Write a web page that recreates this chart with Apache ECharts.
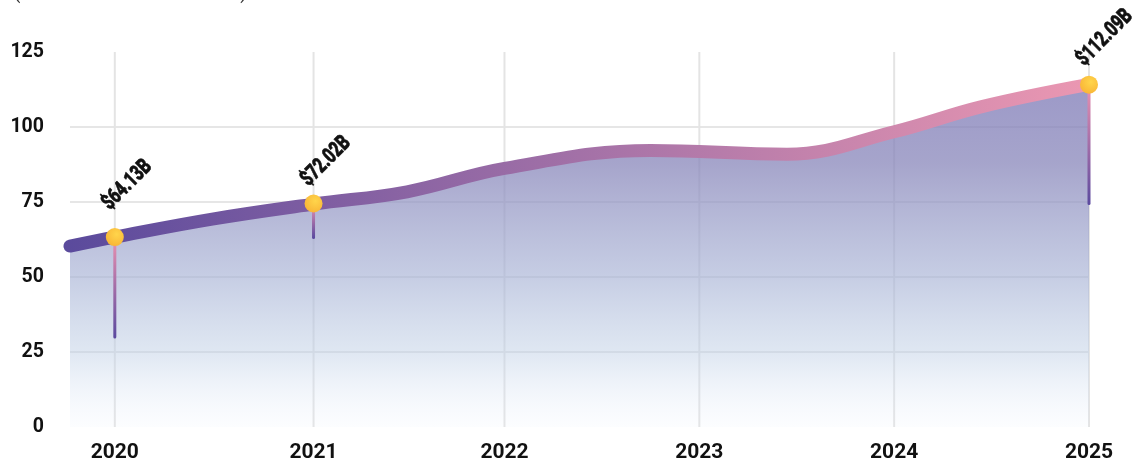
<!DOCTYPE html>
<html><head><meta charset="utf-8">
<script src="https://cdn.jsdelivr.net/npm/echarts@6/dist/echarts.min.js"></script>
<style>html,body{margin:0;padding:0;background:#fff;} #c{width:1132px;height:466px;}</style>
</head><body><div id="c"></div>
<script>
// x positions of the year ticks as drawn in the reference (2021 sits slightly right of even spacing)
const tickPos = [2020, 2021.02, 2022, 2023, 2024, 2025];
const tickLabels = ['2020', '2021', '2022', '2023', '2024', '2025'];
const curveX = [2019.77, 2020, 2020.5, 2021.02, 2021.5, 2022, 2022.75, 2023.45, 2024, 2024.45, 2025];
const curveY = [60.3, 63.3, 69.3, 74.3, 78.4, 86.2, 92.2, 90.9, 98.4, 106.8, 114.2];
const markerX = [2020, 2021.02, 2025];
const markerValues = [64.13, 72.02, 112.09];
const markerDots = [63.3, 74.5, 114.1];
const markerStemLow = [30, 63.2, 74.5];
const markerLabels = ['$64.13B', '$72.02B', '$112.09B'];
const subtitle = '(Market Size in Billions USD)';

const chart = echarts.init(document.getElementById('c'), null, {renderer: 'canvas'});
const G = echarts.graphic;

function renderGrid(params, api) {
  const x = api.value(0);
  const a = api.coord([x, 0]);
  const b = api.coord([x, 125]);
  return {type: 'line', shape: {x1: a[0], y1: a[1], x2: b[0], y2: b[1]},
    style: {stroke: '#e4e4e4', lineWidth: 2}};
}

function renderMarker(params, api) {
  const i = params.dataIndex;
  const x = api.value(0);
  const top = api.coord([x, api.value(1)]);
  const low = api.coord([x, api.value(2)]);
  const lab = api.coord([x, api.value(3)]);
  return {
    type: 'group',
    children: [
      {type: 'line', shape: {x1: top[0], y1: top[1], x2: low[0], y2: low[1]},
        style: {stroke: new G.LinearGradient(top[0], top[1], low[0], low[1],
          [{offset: 0, color: '#ec92b0'}, {offset: 1, color: '#5c4a9f'}], true), lineWidth: 3, lineCap: 'round'}},
      {type: 'circle', shape: {cx: top[0], cy: top[1], r: 9},
        style: {fill: new G.RadialGradient(0.6, 0.35, 0.75,
          [{offset: 0, color: '#ffd54b'}, {offset: 1, color: '#f8b234'}])}},
      {type: 'text', x: lab[0] - 9, y: lab[1] - 28, rotation: 45 * Math.PI / 180,
        scaleX: 0.72, scaleY: 1,
        style: {text: markerLabels[i], fontFamily: 'Roboto, sans-serif',
          fontWeight: 900, fontSize: 22, fill: '#111', align: 'left', verticalAlign: 'middle',
          stroke: '#111', lineWidth: 0.6}}
    ]
  };
}

chart.setOption({
  animation: false,
  backgroundColor: '#ffffff',
  grid: {left: 70, right: 43, top: 52, bottom: 39, containLabel: false},
  graphic: [{type: 'text', left: 14, top: -15,
    style: {text: subtitle, fontFamily: 'Roboto', fontSize: 18.5, fill: '#333'}}],
  xAxis: {
    type: 'value', min: 2019.77, max: 2025,
    axisLine: {show: false}, axisTick: {show: false}, splitLine: {show: false},
    axisLabel: {customValues: tickPos,
      formatter: v => tickLabels[tickPos.indexOf(v)] || '', color: '#111',
      fontFamily: 'Roboto', fontWeight: 'bold', fontSize: 21, margin: 15}
  },
  yAxis: {
    type: 'value', min: 0, max: 125, interval: 25,
    axisLine: {show: false}, axisTick: {show: false},
    splitLine: {show: true, showMinLine: false, showMaxLine: false,
      lineStyle: {color: '#e6e6e6', width: 2}},
    axisLabel: {color: '#111', fontFamily: 'Roboto', fontWeight: 'bold', fontSize: 19.5, margin: 26}
  },
  series: [
    {type: 'custom', z: 1, silent: true, data: tickPos.map(y => [y, 0]), renderItem: renderGrid},
    {
      type: 'line', z: 2, silent: true,
      data: curveX.map((x, i) => [x, curveY[i]]),
      smooth: 0.4, symbol: 'none',
      lineStyle: {width: 13, cap: 'round',
        color: new G.LinearGradient(0, 0, 1, 0, [{offset: 0, color: '#5a4a9c'}, {offset: 1, color: '#ec98b2'}])},
      areaStyle: {opacity: 1, color: new G.LinearGradient(0, 0, 0, 1, [
        {offset: 0, color: 'rgba(128,124,184,0.78)'},
        {offset: 0.23, color: 'rgba(136,134,186,0.75)'},
        {offset: 0.56, color: 'rgba(167,178,213,0.65)'},
        {offset: 0.78, color: 'rgba(191,207,229,0.5)'},
        {offset: 1, color: 'rgba(225,235,250,0.1)'}
      ])}
    },
    {type: 'custom', z: 5, silent: true,
      data: markerX.map((x, i) => [x, markerDots[i], markerStemLow[i], markerValues[i]]),
      renderItem: renderMarker}
  ]
});
</script></body></html>
